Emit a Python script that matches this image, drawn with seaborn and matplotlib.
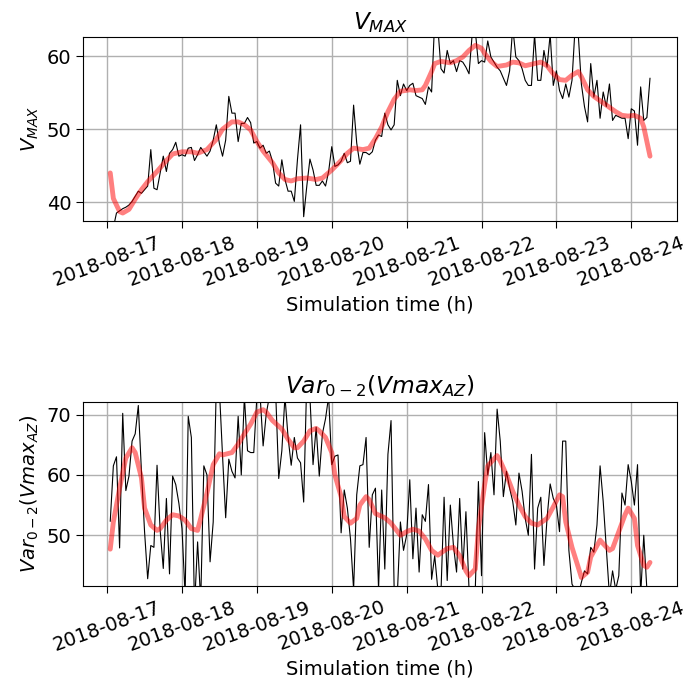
import matplotlib
matplotlib.use("Agg")
import matplotlib.pyplot as plt
import matplotlib.dates as mdates
from matplotlib.ticker import MultipleLocator
import numpy as np
import pandas as pd
import seaborn as sns

sns.set_style("ticks", {"axes.grid": True})
plt.rcParams['font.family'] = ['DejaVu Sans']
plt.rcParams.update({
    'font.size': 14,
    'text.color': 'black',
    'axes.labelcolor': 'black',
    'xtick.color': 'black',
    'ytick.color': 'black',
})

# hourly samples, starting 2018-08-17 01:00
start = pd.Timestamp("2018-08-17 01:00")

vmax_raw = [
    35, 36.5, 38.5, 38.8, 39.1, 39.3, 39.6, 40.1, 40.8, 41.5,
    41.2, 41.7, 42.2, 47.2, 41.9, 41.7, 44.0, 46.3, 44.2, 46.7,
    47.2, 48.2, 46.3, 46.5, 46.3, 47.4, 47.5, 45.7, 46.5, 47.5,
    46.9, 46.3, 47.0, 48.5, 50.6, 48.0, 46.3, 48.5, 54.5, 52.2,
    52.2, 48.3, 50.8, 50.8, 51.6, 50.9, 48.1, 48.3, 47.4, 47.8,
    46.7, 47.0, 45.6, 42.6, 42.2, 45.8, 43.1, 41.5, 41.5, 40.1,
    45.8, 50.6, 38.0, 42.2, 45.9, 44.4, 42.3, 42.3, 42.9, 42.2,
    44.2, 47.6, 44.9, 45.1, 45.6, 46.7, 45.4, 45.6, 53.3, 48.1,
    45.2, 46.8, 46.8, 46.5, 46.9, 48.5, 49.2, 49.0, 52.2, 50.6,
    49.9, 50.6, 56.7, 54.6, 56.2, 55.3, 56.0, 56.3, 54.6, 54.4,
    54.2, 53.4, 55.8, 55.1, 65.0, 64.0, 58.3, 57.7, 60.8, 59.0,
    59.4, 57.9, 59.4, 59.2, 58.5, 57.6, 63.0, 63.5, 59.0, 59.4,
    59.2, 62.1, 59.9, 59.2, 58.5, 58.0, 57.0, 56.0, 58.0, 64.0,
    59.9, 59.4, 58.3, 56.7, 56.0, 56.0, 63.0, 56.7, 56.7, 60.8,
    58.5, 63.0, 56.0, 58.0, 55.3, 54.2, 56.2, 54.4, 56.7, 64.0,
    63.0, 56.2, 53.1, 51.0, 59.0, 54.4, 56.7, 51.5, 55.1, 53.1,
    56.2, 51.2, 51.9, 51.7, 51.5, 51.5, 48.7, 52.8, 52.5, 47.8,
    55.8, 51.2, 51.6, 57.0,
]

vmax_smooth_h = [
    1, 2, 4, 5, 7, 9, 11, 13, 16, 19, 21, 24, 27, 29, 32, 35, 37, 40, 42, 44,
    46, 48, 50, 53, 55, 57, 59, 61, 64, 67, 69, 72, 75, 77, 79, 82, 84, 86, 88, 90,
    92, 94, 97, 99, 101, 102, 104, 105, 107, 110, 112, 114, 116, 118, 120, 121, 123, 125, 128, 130,
    132, 134, 136, 139, 141, 143, 145, 147, 149, 151, 152, 154, 156, 159, 161, 163, 165, 167, 169, 171,
    172, 173, 174,
]
vmax_smooth = [
    44.0, 40.5, 38.7, 38.5, 39.0, 40.4, 41.7, 42.8, 44.2, 45.7, 46.6, 46.9, 46.9, 46.7, 47.2, 48.6, 50.0, 51.0, 51.0, 50.6,
    49.9, 48.3, 47.0, 45.4, 44.0, 43.1, 42.9, 43.2, 43.3, 43.1, 43.3, 44.4, 45.7, 46.7, 47.4, 47.2, 47.4, 48.7, 50.3, 52.4,
    54.1, 55.2, 55.4, 55.3, 55.4, 56.0, 57.9, 59.0, 59.3, 59.1, 59.4, 59.9, 60.8, 61.5, 61.1, 60.4, 59.3, 58.6, 58.8, 59.2,
    59.1, 58.7, 58.9, 59.2, 58.7, 57.6, 56.8, 56.7, 57.4, 57.9, 57.2, 55.4, 54.5, 53.6, 53.0, 52.4, 51.9, 51.8, 51.9, 51.5,
    50.3, 48.3, 46.3,
]

var_raw = [
    52.3, 61.5, 63.0, 47.9, 70.2, 57.4, 59.8, 65.6, 66.8, 71.5,
    60.6, 50.6, 42.8, 48.3, 48.0, 61.6, 50.8, 44.5, 56.1, 43.6,
    59.8, 58.4, 55.3, 51.1, 40.0, 69.7, 66.2, 38.0, 48.9, 39.0,
    61.5, 60.0, 45.6, 52.2, 75.0, 74.0, 63.1, 52.9, 62.6, 60.6,
    59.5, 69.7, 60.0, 73.0, 64.0, 63.7, 63.7, 73.0, 73.5, 64.8,
    70.1, 73.0, 72.5, 74.0, 59.4, 64.0, 73.0, 66.2, 61.6, 66.2,
    62.8, 62.0, 55.5, 76.0, 73.0, 61.7, 67.9, 59.8, 66.8, 69.3,
    73.0, 61.7, 63.1, 63.3, 50.4, 57.5, 54.5, 49.4, 41.0, 56.7,
    61.5, 61.7, 66.2, 48.0, 56.7, 57.8, 41.0, 57.5, 44.4, 63.4,
    69.0, 41.0, 40.0, 52.2, 47.5, 50.0, 59.2, 46.1, 54.5, 43.9,
    53.4, 52.3, 58.4, 42.7, 46.6, 41.0, 40.5, 56.3, 42.5, 55.0,
    48.3, 43.9, 56.1, 44.4, 53.9, 41.0, 40.5, 41.0, 58.9, 43.3,
    67.0, 60.0, 63.7, 56.7, 70.9, 65.6, 56.4, 60.6, 57.8, 55.6,
    51.7, 60.3, 57.3, 52.8, 50.0, 63.4, 44.4, 54.5, 56.3, 45.0,
    52.8, 58.5, 56.1, 55.0, 50.6, 65.6, 65.6, 47.5, 41.9, 41.0,
    40.0, 42.2, 44.1, 43.6, 48.0, 47.2, 51.7, 61.5, 55.6, 47.8,
    40.0, 44.1, 41.0, 43.3, 57.0, 55.0, 61.7, 58.9, 55.0, 61.7,
    40.0, 50.0, 41.0, 40.0,
]

var_smooth_h = [
    1, 2, 4, 6, 8, 9, 11, 12, 14, 16, 17, 19, 21, 23, 25, 27, 29, 30, 32, 34,
    36, 37, 40, 42, 44, 46, 48, 50, 51, 53, 56, 58, 60, 61, 63, 65, 67, 68, 70, 72,
    73, 75, 76, 78, 80, 81, 83, 84, 86, 89, 91, 94, 96, 98, 100, 102, 104, 106, 109, 111,
    113, 115, 116, 118, 119, 121, 122, 125, 126, 128, 130, 132, 134, 136, 138, 141, 143, 145, 146, 147,
    149, 151, 152, 154, 155, 158, 159, 161, 162, 164, 166, 167, 169, 170, 172, 173, 174,
]
var_smooth = [
    47.7, 52.2, 57.8, 62.8, 64.5, 63.7, 59.5, 54.5, 51.7, 50.8, 51.1, 52.5, 53.4, 53.2, 52.5, 51.1, 50.8, 52.8, 57.0, 61.7,
    63.5, 63.3, 63.7, 65.1, 66.8, 68.4, 70.4, 70.8, 70.4, 69.0, 67.6, 65.9, 64.5, 64.5, 65.6, 67.3, 67.7, 67.3, 66.2, 63.7,
    60.0, 56.4, 53.1, 52.0, 52.8, 55.0, 56.4, 55.9, 53.6, 52.9, 52.0, 50.0, 50.6, 51.0, 50.7, 49.4, 47.5, 46.7, 47.8, 48.0,
    46.6, 44.1, 43.3, 44.4, 51.1, 58.4, 61.5, 63.2, 62.3, 60.0, 57.3, 55.0, 53.1, 52.0, 51.7, 52.8, 54.7, 56.7, 56.4, 52.2,
    48.0, 44.7, 43.0, 43.9, 46.4, 49.2, 48.6, 47.5, 47.8, 50.6, 53.4, 54.5, 52.8, 48.3, 45.0, 44.7, 45.5,
]


def hours_to_time(h):
    return start + pd.to_timedelta(np.asarray(h) - 1, unit="h")


raw_time = hours_to_time(np.arange(1, len(vmax_raw) + 1))

fig, axes = plt.subplots(2, 1, figsize=(6.88, 6.91), dpi=100)
fig.subplots_adjust(left=0.121, right=0.984, top=0.946, bottom=0.152, hspace=0.98)

panels = [
    (axes[0], vmax_raw, vmax_smooth_h, vmax_smooth, r"$V_{MAX}$", r"$V_{MAX}$", (37.35, 62.6)),
    (axes[1], var_raw, var_smooth_h, var_smooth, r"$Var_{0-2}(Vmax_{AZ})$",
     r"$Var_{0-2}(Vmax_{AZ})$", (41.6, 72.1)),
]

for ax, raw, sh, sv, title, ylab, ylim in panels:
    sns.lineplot(x=raw_time, y=raw, ax=ax, color="black", lw=0.8)
    sns.lineplot(x=hours_to_time(sh), y=sv, ax=ax, color="red", alpha=0.5, lw=3.5)
    ax.set_ylim(*ylim)
    ax.yaxis.set_major_locator(MultipleLocator(10))
    ax.set_title(title, fontsize=16.8)
    ax.set_ylabel(ylab, fontsize=14)
    ax.set_xlabel("Simulation time (h)", fontsize=14)
    ax.xaxis.set_major_locator(mdates.DayLocator())
    ax.xaxis.set_major_formatter(mdates.DateFormatter("%Y-%m-%d"))
    ax.tick_params(labelsize=14, length=5)
    plt.setp(ax.get_xticklabels(), rotation=20)
    ax.grid(True, color="#b0b0b0", lw=1.0)
    for s in ax.spines.values():
        s.set_color("black")

fig.savefig("out.png", dpi=100)
